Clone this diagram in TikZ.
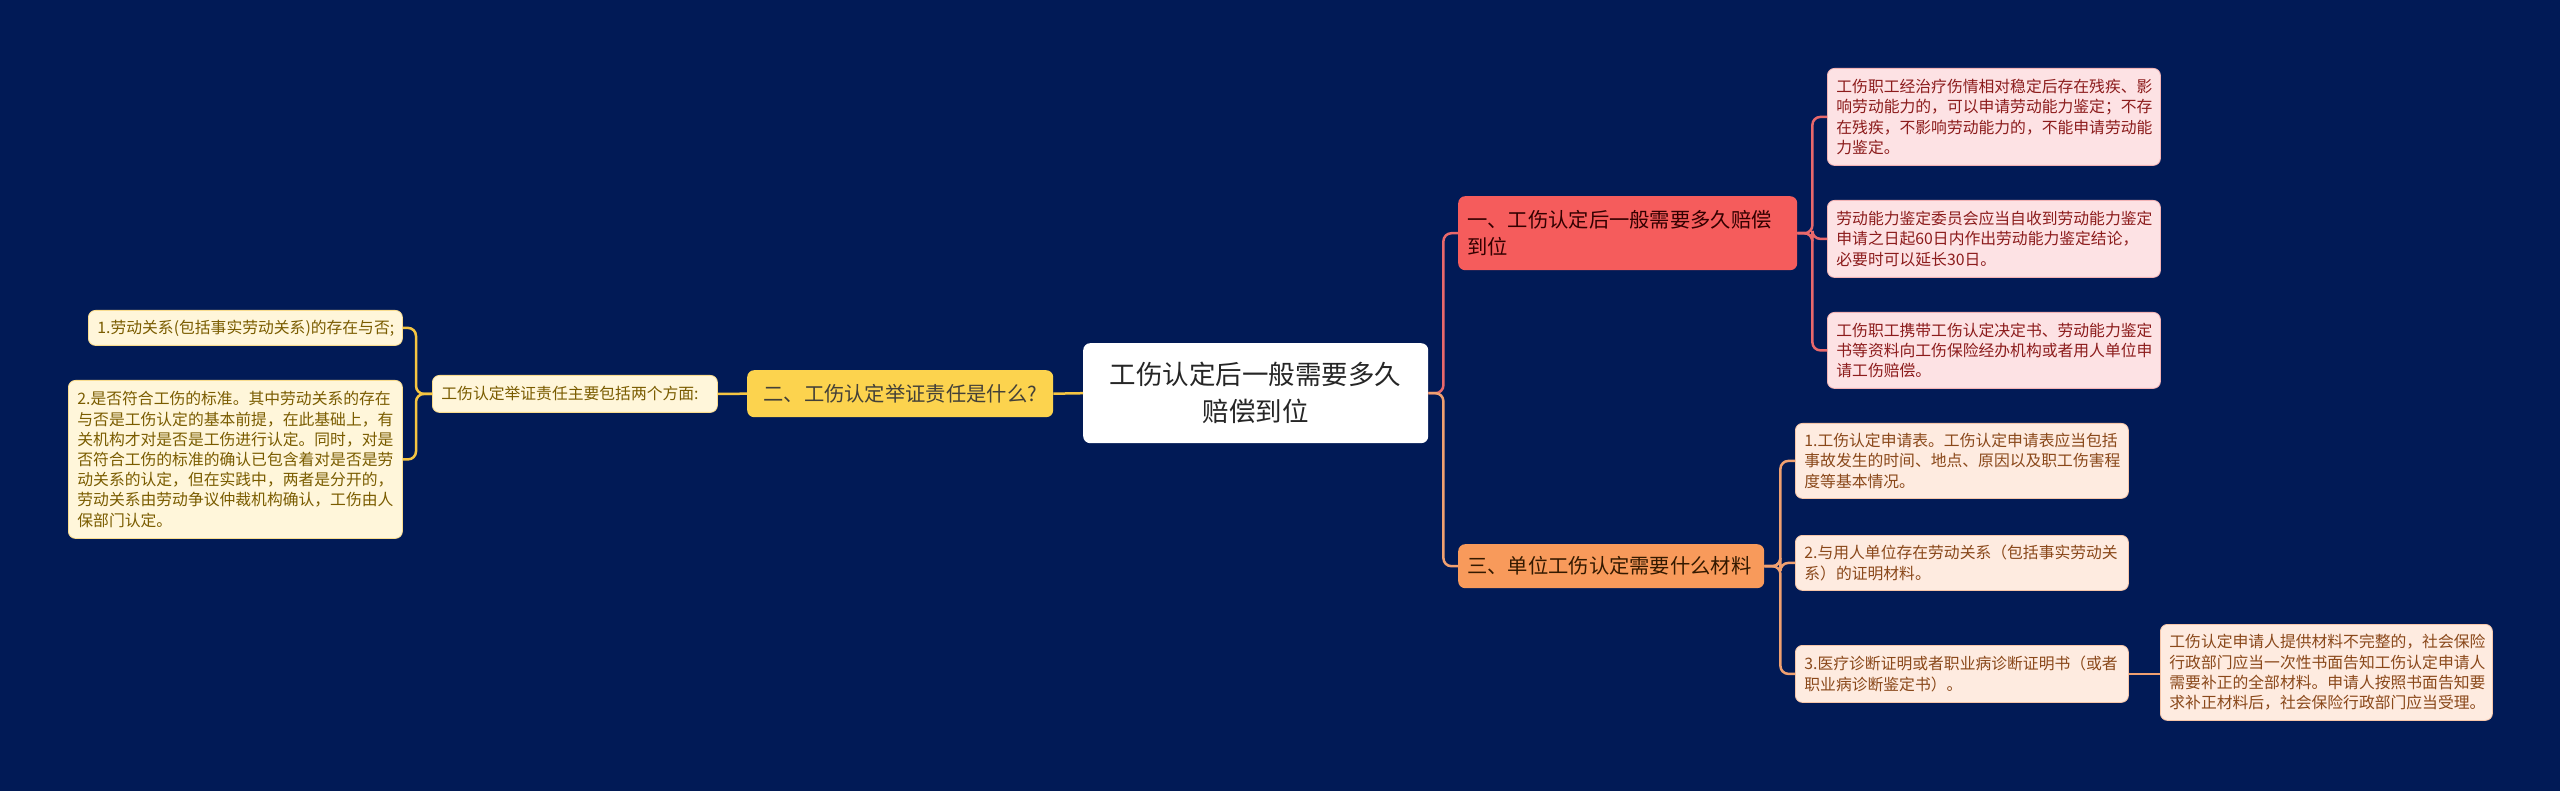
\documentclass[tikz,border=0pt]{standalone}
\usepackage{fontspec}
\setmainfont{Noto Sans CJK SC}
\definecolor{bg}{RGB}{1,26,86}
\definecolor{redfill}{RGB}{245,92,92}
\definecolor{redleaf}{RGB}{253,226,228}
\definecolor{redtext}{RGB}{140,28,28}
\definecolor{redline}{RGB}{232,104,107}
\definecolor{yelfill}{RGB}{252,211,78}
\definecolor{yelleaf}{RGB}{255,246,218}
\definecolor{yeltext}{RGB}{122,92,0}
\definecolor{yelline}{RGB}{245,197,66}
\definecolor{orgfill}{RGB}{248,154,91}
\definecolor{orgleaf}{RGB}{254,235,224}
\definecolor{orgtext}{RGB}{138,72,26}
\definecolor{orgline}{RGB}{240,160,112}
\tikzset{
  box/.style={rounded corners=7pt, anchor=north west, align=left, inner xsep=9pt, inner ysep=0pt},
  leaffont/.style={font=\fontsize{15.8}{20.2}\selectfont},
  leafR/.style={box, leaffont, fill=redleaf, draw=redline!50, line width=0.8pt, text=redtext},
  leafY/.style={box, leaffont, fill=yelleaf, draw=yelline!60, line width=0.8pt, text=yeltext},
  leafO/.style={box, leaffont, fill=orgleaf, draw=orgline!60, line width=0.8pt, text=orgtext},
  mainbox/.style={box, align=center, fill=white, text=black!85, font=\fontsize{26.5}{37}\selectfont},
  brR/.style={box, fill=redfill, text=black!80!red, font=\fontsize{20.3}{27}\selectfont},
  brY/.style={box, align=center, fill=yelfill, text=black!85!yellow, font=\fontsize{20.3}{27}\selectfont},
  brO/.style={box, fill=orgfill, text=black!80!orange, font=\fontsize{20.3}{27}\selectfont},
  lnR/.style={draw=redline, line width=2.5pt, rounded corners=8pt},
  lnY/.style={draw=yelline, line width=2.5pt, rounded corners=8pt},
  lnO/.style={draw=orgline, line width=2.5pt, rounded corners=8pt},
}
\begin{document}
\begin{tikzpicture}[x=1pt,y=-1pt]
\fill[bg] (0,0) rectangle (2560,791);
\useasboundingbox (0,0) rectangle (2560,791);

% center
\node[mainbox, text width=327pt, minimum height=100pt] (c) at (1083,343) {工伤认定后一般需要多久\\赔偿到位};

% branch 1
\node[brR, text width=321pt, minimum height=74pt] (b1) at (1458,196) {一、工伤认定后一般需要多久赔偿\\到位};
\node[leafR, text width=315pt, minimum height=97pt] (l1a) at (1827,68) {工伤职工经治疗伤情相对稳定后存在残疾、影\\响劳动能力的，可以申请劳动能力鉴定；不存\\在残疾，不影响劳动能力的，不能申请劳动能\\力鉴定。};
\node[leafR, text width=315pt, minimum height=77pt] (l1b) at (1827,200) {劳动能力鉴定委员会应当自收到劳动能力鉴定\\申请之日起60日内作出劳动能力鉴定结论，\\必要时可以延长30日。};
\node[leafR, text width=315pt, minimum height=76pt] (l1c) at (1827,312) {工伤职工携带工伤认定决定书、劳动能力鉴定\\书等资料向工伤保险经办机构或者用人单位申\\请工伤赔偿。};

% branch 2
\node[brY, text width=288pt, minimum height=47pt] (b2) at (747,370) {二、工伤认定举证责任是什么?};
\node[leafY, text width=267pt, minimum height=37pt] (s2) at (432,375) {工伤认定举证责任主要包括两个方面:};
\node[leafY, text width=296pt, minimum height=35pt] (l2a) at (88,310) {1.劳动关系(包括事实劳动关系)的存在与否;};
\node[leafY, text width=316pt, minimum height=158pt] (l2b) at (68,380) {2.是否符合工伤的标准。其中劳动关系的存在\\与否是工伤认定的基本前提，在此基础上，有\\关机构才对是否是工伤进行认定。同时，对是\\否符合工伤的标准的确认已包含着对是否是劳\\动关系的认定，但在实践中，两者是分开的，\\劳动关系由劳动争议仲裁机构确认，工伤由人\\保部门认定。};

% branch 3
\node[brO, text width=288pt, minimum height=44pt] (b3) at (1458,544) {三、单位工伤认定需要什么材料};
\node[leafO, text width=315pt, minimum height=75pt] (l3a) at (1795,423) {1.工伤认定申请表。工伤认定申请表应当包括\\事故发生的时间、地点、原因以及职工伤害程\\度等基本情况。};
\node[leafO, text width=315pt, minimum height=55pt] (l3b) at (1795,535) {2.与用人单位存在劳动关系（包括事实劳动关\\系）的证明材料。};
\node[leafO, text width=315pt, minimum height=57pt] (l3c) at (1795,645) {3.医疗诊断证明或者职业病诊断证明书（或者\\职业病诊断鉴定书）。};
\node[leafO, text width=314pt, minimum height=96pt] (l3d) at (2160,624) {工伤认定申请人提供材料不完整的，社会保险\\行政部门应当一次性书面告知工伤认定申请人\\需要补正的全部材料。申请人按照书面告知要\\求补正材料后，社会保险行政部门应当受理。};

% connectors
\draw[lnR] (c.east) -- ([xshift=15pt]c.east) |- (b1.west);
\draw[lnO] (c.east) -- ([xshift=15pt]c.east) |- (b3.west);
\draw[lnR] (b1.east) -- ([xshift=15pt]b1.east) |- (l1a.west);
\draw[lnR] (b1.east) -- ([xshift=15pt]b1.east) |- (l1b.west);
\draw[lnR] (b1.east) -- ([xshift=15pt]b1.east) |- (l1c.west);
\draw[lnY] (c.west) -- (b2.east);
\draw[lnY] (b2.west) -- (s2.east);
\draw[lnY] (s2.west) -- ([xshift=-16pt]s2.west) |- (l2a.east);
\draw[lnY] (s2.west) -- ([xshift=-16pt]s2.west) |- (l2b.east);
\draw[lnO] (b3.east) -- ([xshift=16pt]b3.east) |- (l3a.west);
\draw[lnO] (b3.east) -- ([xshift=16pt]b3.east) |- (l3b.west);
\draw[lnO] (b3.east) -- ([xshift=16pt]b3.east) |- (l3c.west);
\draw[lnO] (l3c.east) -- (l3d.west |- l3c.east);
\end{tikzpicture}
\end{document}
